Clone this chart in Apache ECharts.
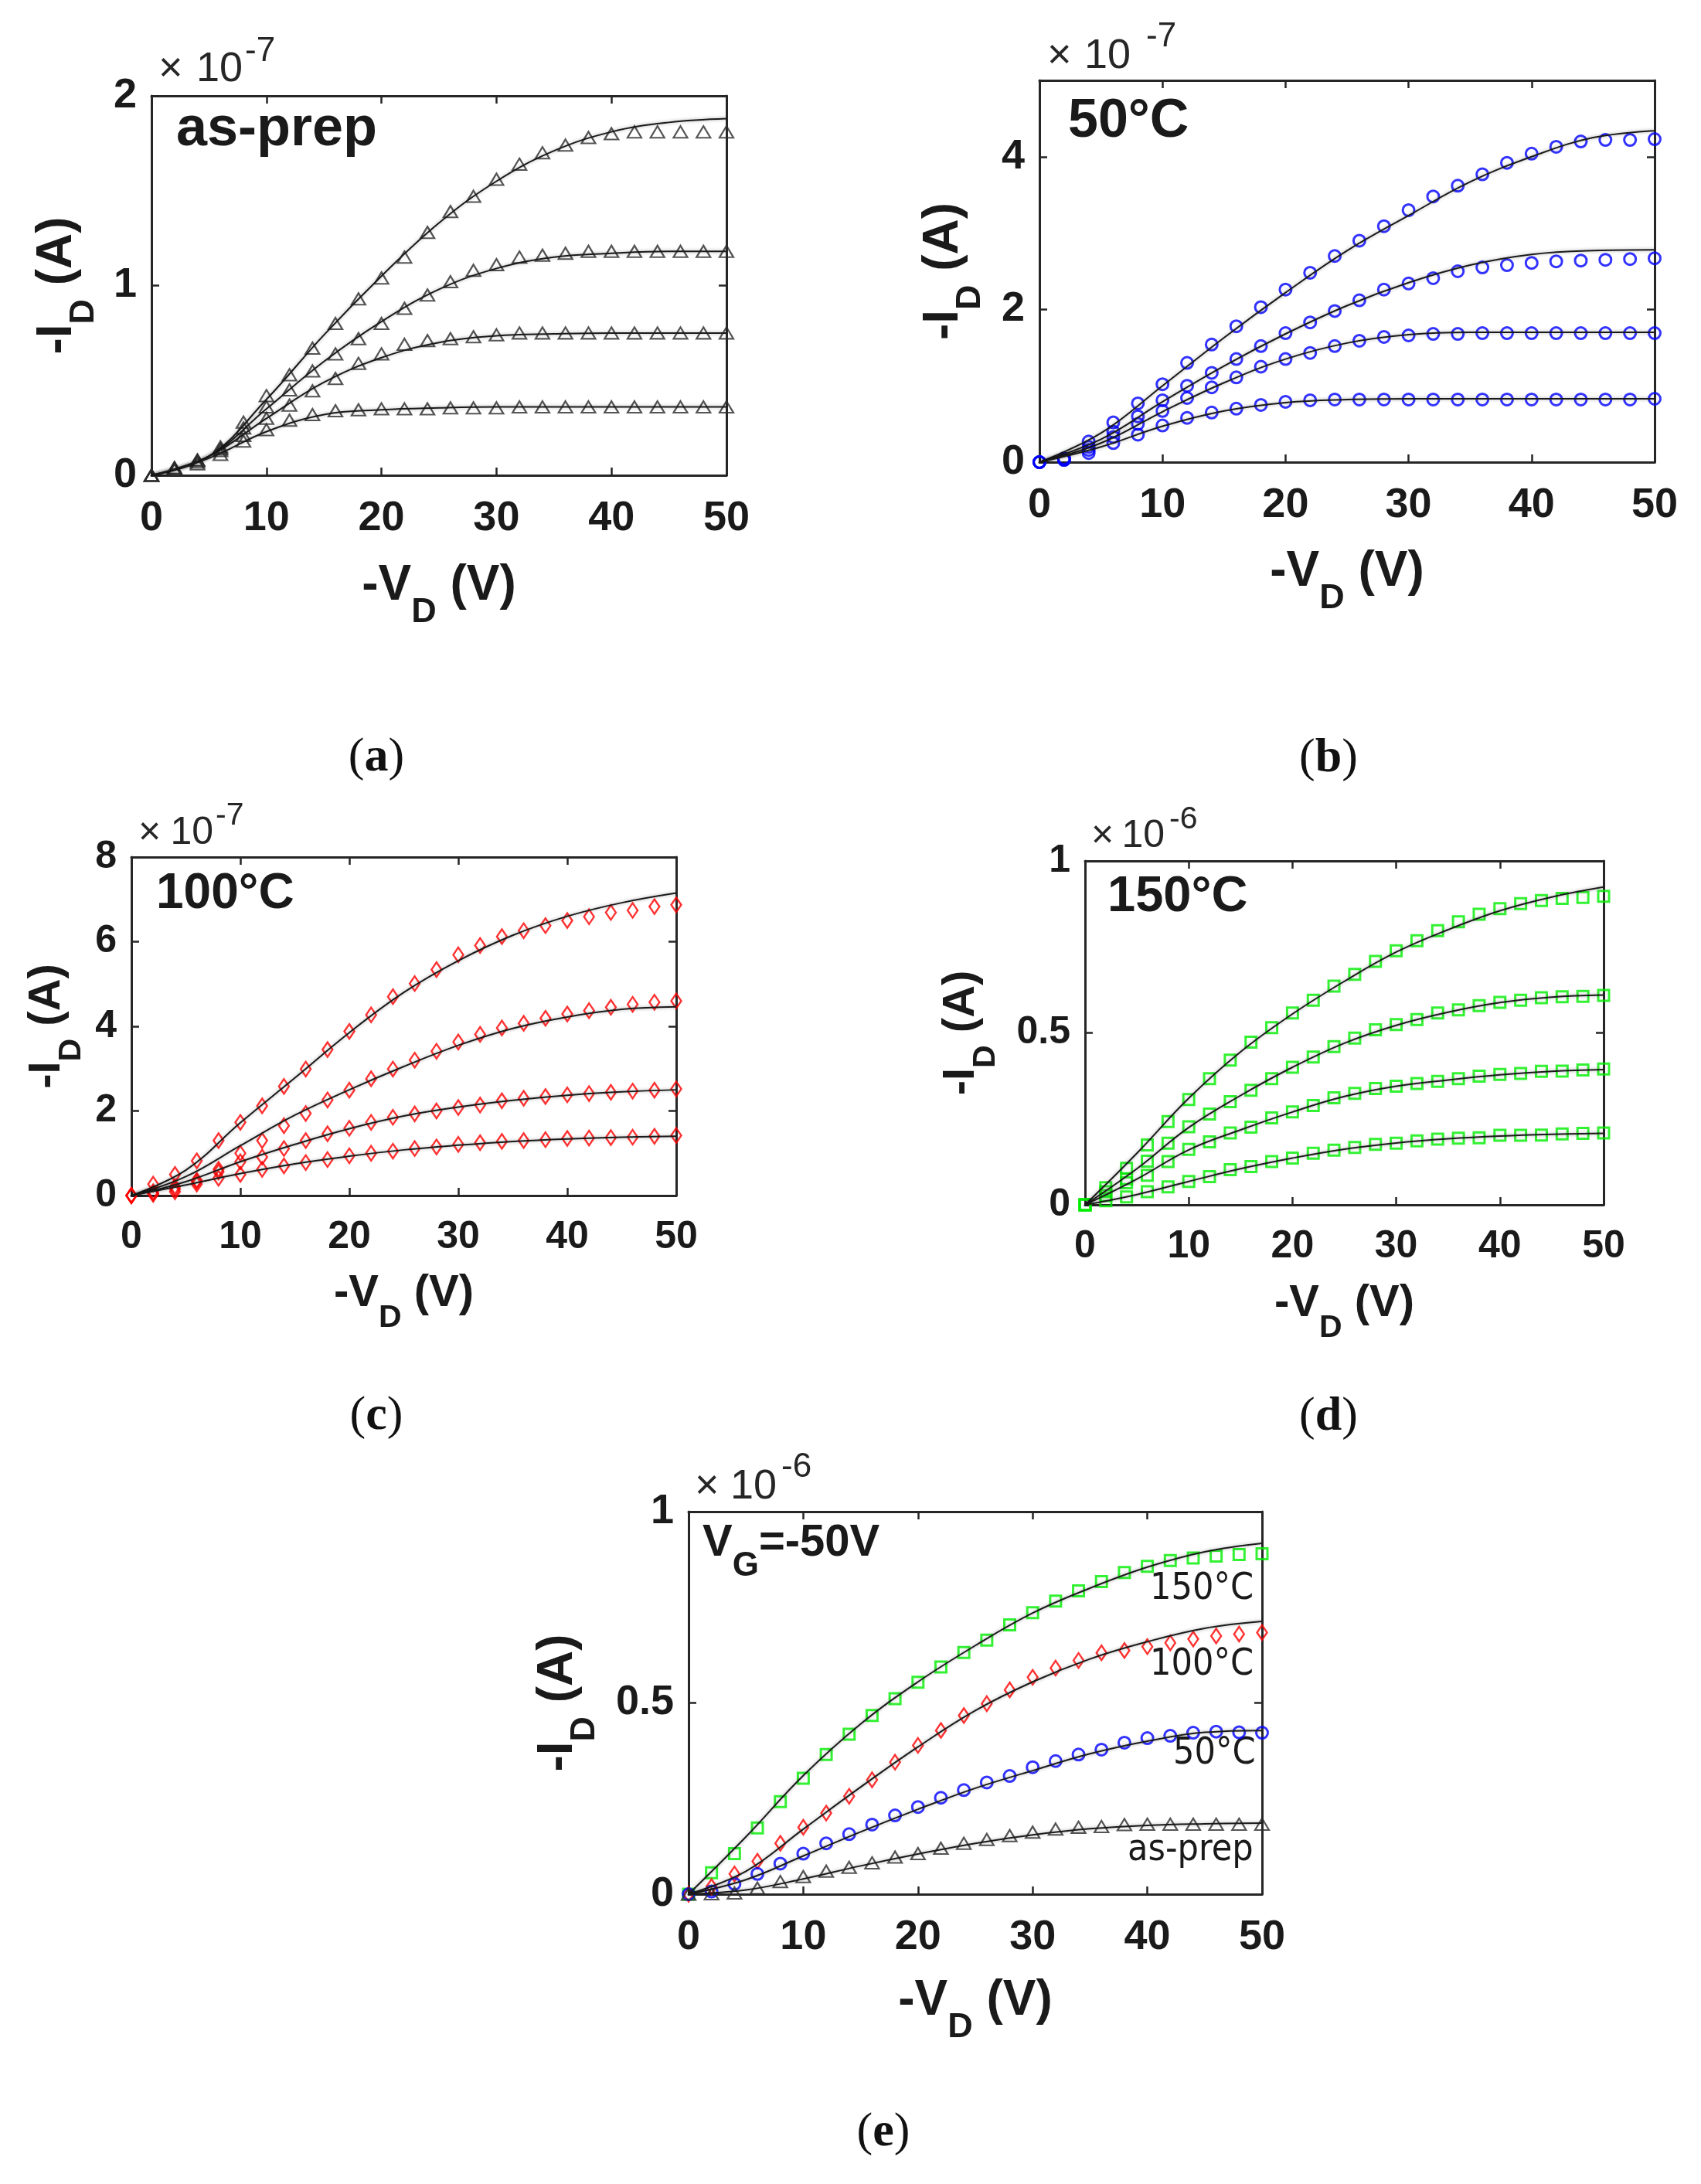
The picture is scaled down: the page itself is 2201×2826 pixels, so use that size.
<!DOCTYPE html>
<html>
<head>
<meta charset="utf-8">
<script src="https://cdn.jsdelivr.net/npm/echarts@6/dist/echarts.min.js"></script>
<style>
  html, body { margin: 0; padding: 0; background: #fff; }
  #chart { width: 2201px; height: 2826px; }
</style>
</head>
<body>
<div id="chart"></div>
<script>
// -VD sampling of the measured points and of the fitted curves
const vdPts = [0, 2, 4, 6, 8, 10, 12, 14, 16, 18, 20, 22, 24, 26, 28, 30, 32, 34, 36, 38, 40, 42, 44, 46, 48, 50];
const vdFit = [0, 5, 10, 15, 20, 25, 30, 35, 40, 45, 50];

// (a) as-prep, x1e-7 A
const aMeas = [
  [0, 0.04, 0.08, 0.15, 0.28, 0.42, 0.53, 0.67, 0.80, 0.93, 1.04, 1.15, 1.28, 1.39, 1.47, 1.56, 1.64, 1.70, 1.74, 1.78, 1.80, 1.81, 1.81, 1.81, 1.81, 1.81],
  [0, 0.04, 0.08, 0.14, 0.25, 0.36, 0.45, 0.55, 0.64, 0.72, 0.80, 0.88, 0.95, 1.02, 1.08, 1.11, 1.15, 1.16, 1.17, 1.18, 1.18, 1.18, 1.18, 1.18, 1.18, 1.18],
  [0, 0.03, 0.07, 0.13, 0.21, 0.30, 0.37, 0.445, 0.51, 0.59, 0.64, 0.69, 0.71, 0.72, 0.73, 0.74, 0.75, 0.75, 0.75, 0.75, 0.75, 0.75, 0.75, 0.75, 0.75, 0.75],
  [0, 0.03, 0.06, 0.11, 0.18, 0.24, 0.29, 0.32, 0.34, 0.345, 0.35, 0.35, 0.35, 0.355, 0.355, 0.355, 0.36, 0.36, 0.36, 0.36, 0.36, 0.36, 0.36, 0.36, 0.36, 0.36]
];
const aFit = [
  [0, 0.10, 0.40, 0.74, 1.05, 1.33, 1.55, 1.71, 1.81, 1.86, 1.88],
  [0, 0.10, 0.35, 0.60, 0.81, 0.98, 1.09, 1.15, 1.17, 1.18, 1.18],
  [0, 0.10, 0.30, 0.49, 0.62, 0.70, 0.735, 0.745, 0.75, 0.75, 0.75],
  [0, 0.09, 0.23, 0.32, 0.345, 0.355, 0.36, 0.36, 0.36, 0.36, 0.36]
];

// (b) 50 C, x1e-7 A
const bMeas = [
  [0, 0.05, 0.27, 0.52, 0.77, 1.02, 1.30, 1.54, 1.78, 2.03, 2.26, 2.48, 2.70, 2.90, 3.09, 3.30, 3.48, 3.62, 3.77, 3.92, 4.04, 4.13, 4.20, 4.22, 4.22, 4.23],
  [0, 0.04, 0.20, 0.40, 0.60, 0.81, 1.00, 1.17, 1.35, 1.52, 1.69, 1.83, 1.98, 2.12, 2.26, 2.34, 2.41, 2.50, 2.55, 2.58, 2.61, 2.63, 2.64, 2.65, 2.66, 2.67],
  [0, 0.03, 0.16, 0.33, 0.50, 0.67, 0.84, 0.98, 1.11, 1.25, 1.35, 1.43, 1.52, 1.59, 1.64, 1.66, 1.68, 1.68, 1.69, 1.69, 1.69, 1.69, 1.69, 1.69, 1.69, 1.69],
  [0, 0.03, 0.12, 0.25, 0.36, 0.48, 0.58, 0.65, 0.70, 0.75, 0.79, 0.81, 0.82, 0.82, 0.82, 0.82, 0.82, 0.82, 0.82, 0.82, 0.82, 0.82, 0.82, 0.82, 0.82, 0.83]
];
const bFit = [
  [0, 0.38, 1.00, 1.63, 2.22, 2.77, 3.23, 3.67, 4.00, 4.25, 4.34],
  [0, 0.30, 0.79, 1.26, 1.68, 2.05, 2.35, 2.58, 2.72, 2.77, 2.78],
  [0, 0.25, 0.66, 1.04, 1.35, 1.56, 1.67, 1.70, 1.70, 1.70, 1.70],
  [0, 0.20, 0.47, 0.67, 0.78, 0.82, 0.83, 0.83, 0.83, 0.83, 0.83]
];

// (c) 100 C, x1e-7 A
const cMeas = [
  [0, 0.27, 0.50, 0.82, 1.30, 1.73, 2.12, 2.58, 2.99, 3.45, 3.88, 4.27, 4.70, 5.01, 5.34, 5.69, 5.91, 6.12, 6.26, 6.38, 6.50, 6.59, 6.69, 6.74, 6.83, 6.87],
  [0, 0.09, 0.21, 0.36, 0.62, 1.00, 1.30, 1.65, 1.94, 2.26, 2.49, 2.76, 2.99, 3.20, 3.41, 3.63, 3.81, 3.96, 4.07, 4.19, 4.29, 4.37, 4.45, 4.52, 4.57, 4.60],
  [0, 0.05, 0.15, 0.33, 0.56, 0.80, 0.91, 1.11, 1.30, 1.46, 1.59, 1.73, 1.85, 1.93, 2.00, 2.08, 2.14, 2.24, 2.30, 2.34, 2.38, 2.41, 2.44, 2.47, 2.49, 2.52],
  [0, 0.03, 0.09, 0.27, 0.41, 0.50, 0.62, 0.70, 0.78, 0.85, 0.94, 1.00, 1.05, 1.11, 1.15, 1.21, 1.25, 1.28, 1.30, 1.32, 1.35, 1.36, 1.37, 1.38, 1.40, 1.42]
];
const cFit = [
  [0, 0.60, 1.72, 2.78, 3.85, 4.80, 5.55, 6.15, 6.60, 6.92, 7.15],
  [0, 0.45, 1.18, 1.90, 2.50, 3.05, 3.55, 3.95, 4.22, 4.40, 4.46],
  [0, 0.33, 0.80, 1.21, 1.58, 1.88, 2.09, 2.25, 2.37, 2.45, 2.50],
  [0, 0.25, 0.52, 0.75, 0.93, 1.08, 1.19, 1.28, 1.34, 1.38, 1.40]
];

// (d) 150 C, x1e-6 A
const dMeas = [
  [0, 0.050, 0.106, 0.174, 0.242, 0.306, 0.367, 0.421, 0.473, 0.515, 0.558, 0.595, 0.636, 0.670, 0.708, 0.739, 0.768, 0.797, 0.823, 0.845, 0.861, 0.876, 0.885, 0.891, 0.894, 0.897],
  [0, 0.038, 0.076, 0.127, 0.179, 0.227, 0.264, 0.300, 0.333, 0.367, 0.400, 0.430, 0.460, 0.485, 0.509, 0.524, 0.539, 0.558, 0.567, 0.579, 0.589, 0.595, 0.602, 0.605, 0.606, 0.609],
  [0, 0.027, 0.064, 0.086, 0.126, 0.161, 0.183, 0.209, 0.226, 0.253, 0.270, 0.289, 0.311, 0.324, 0.338, 0.345, 0.353, 0.359, 0.367, 0.374, 0.379, 0.382, 0.388, 0.389, 0.392, 0.395],
  [0, 0.012, 0.023, 0.038, 0.052, 0.068, 0.082, 0.102, 0.111, 0.126, 0.136, 0.150, 0.159, 0.167, 0.176, 0.179, 0.186, 0.191, 0.194, 0.195, 0.202, 0.202, 0.203, 0.206, 0.208, 0.209]
];
const dFit = [
  [0, 0.150, 0.310, 0.445, 0.555, 0.650, 0.735, 0.800, 0.855, 0.895, 0.924],
  [0, 0.105, 0.225, 0.318, 0.400, 0.470, 0.522, 0.560, 0.588, 0.604, 0.610],
  [0, 0.075, 0.160, 0.218, 0.270, 0.315, 0.345, 0.363, 0.378, 0.388, 0.393],
  [0, 0.030, 0.068, 0.105, 0.136, 0.162, 0.180, 0.192, 0.200, 0.205, 0.208]
];

// (e) VG = -50 V, x1e-6 A : 150 C, 100 C, 50 C, as-prep
const eMeas = [
  [0, 0.056, 0.106, 0.173, 0.242, 0.303, 0.365, 0.418, 0.467, 0.511, 0.554, 0.594, 0.632, 0.664, 0.704, 0.736, 0.766, 0.793, 0.817, 0.841, 0.857, 0.872, 0.879, 0.884, 0.888, 0.890],
  [0, 0.020, 0.053, 0.086, 0.133, 0.175, 0.212, 0.256, 0.299, 0.345, 0.389, 0.428, 0.467, 0.498, 0.534, 0.567, 0.591, 0.611, 0.631, 0.637, 0.647, 0.657, 0.667, 0.675, 0.680, 0.684],
  [0, 0.007, 0.027, 0.053, 0.080, 0.106, 0.133, 0.157, 0.182, 0.206, 0.228, 0.252, 0.272, 0.292, 0.309, 0.332, 0.348, 0.365, 0.378, 0.396, 0.408, 0.414, 0.422, 0.425, 0.423, 0.422],
  [0, 0.001, 0.003, 0.016, 0.033, 0.046, 0.060, 0.070, 0.082, 0.097, 0.106, 0.120, 0.133, 0.143, 0.153, 0.162, 0.170, 0.175, 0.177, 0.182, 0.183, 0.183, 0.183, 0.183, 0.183, 0.183]
];
const eFit = [
  [0, 0.150, 0.310, 0.445, 0.555, 0.650, 0.735, 0.800, 0.855, 0.895, 0.917],
  [0, 0.060, 0.170, 0.280, 0.385, 0.480, 0.555, 0.615, 0.660, 0.695, 0.713],
  [0, 0.038, 0.100, 0.163, 0.222, 0.277, 0.323, 0.367, 0.400, 0.423, 0.428],
  [0, 0.011, 0.040, 0.074, 0.105, 0.133, 0.155, 0.171, 0.180, 0.184, 0.186]
];

const FONT = "'Liberation Sans', Arial, Helvetica, sans-serif";
const NARROW = "'Liberation Sans Narrow', 'DejaVu Sans Condensed', 'Liberation Sans', sans-serif";
const SERIF = "'Liberation Serif', 'Times New Roman', serif";
const INK = '#1a1a1a';

const tri = { symbol: 'triangle', size: [18, 15], color: '#2b2b2b', bw: 2.2 };
const circ = { symbol: 'circle', size: 15, color: '#0000ff', bw: 3 };
const dia = { symbol: 'diamond', size: [13, 19], color: '#ff0000', bw: 2.5 };
const sq = { symbol: 'rect', size: 14, color: '#00ee00', bw: 3 };

const panels = [
  { grid: { left: 196, top: 124, width: 744, height: 491 }, ymax: 2, yint: 1, showMax: true,
    meas: aMeas, fit: aFit, styles: [tri, tri, tri, tri], tick: 54, nameSize: 64, xGap: 83, yGap: 62 },
  { grid: { left: 1345, top: 104, width: 796, height: 494 }, ymax: 5, yint: 2, showMax: false,
    meas: bMeas, fit: bFit, styles: [circ, circ, circ, circ], tick: 54, nameSize: 64, xGap: 82, yGap: 64 },
  { grid: { left: 170, top: 1109, width: 705, height: 438 }, ymax: 8, yint: 2, showMax: true,
    meas: cMeas, fit: cFit, styles: [dia, dia, dia, dia], tick: 50, nameSize: 58, xGap: 72, yGap: 55 },
  { grid: { left: 1404, top: 1114, width: 671, height: 445 }, ymax: 1, yint: 0.5, showMax: true,
    meas: dMeas, fit: dFit, styles: [sq, sq, sq, sq], tick: 50, nameSize: 58, xGap: 73, yGap: 106 },
  { grid: { left: 891, top: 1956, width: 742, height: 495 }, ymax: 1, yint: 0.5, showMax: true,
    meas: eMeas, fit: eFit, styles: [sq, dia, circ, tri], tick: 54, nameSize: 64, xGap: 78, yGap: 109 }
];

// subscript rich styles for axis titles
function nameRich(size) {
  return {
    m: { fontSize: size, fontWeight: 'bold', fontFamily: FONT, color: INK, lineHeight: Math.round(size * 1.88) },
    s: { fontSize: Math.round(size * 0.7), fontWeight: 'bold', fontFamily: FONT, color: INK,
         lineHeight: Math.round(size * 0.78), padding: [Math.round(size * 1.1), 0, 0, 0] }
  };
}

const frame = { show: true, onZero: false, lineStyle: { color: '#262626', width: 3 } };
const ticks = { show: true, inside: true, length: 10, lineStyle: { color: '#262626', width: 2.5 } };

const grids = [], xAxes = [], yAxes = [], series = [];

panels.forEach((p, i) => {
  grids.push(Object.assign({ outerBoundsMode: 'none', containLabel: false }, p.grid));
  xAxes.push({
    gridIndex: i, type: 'value', min: 0, max: 50, interval: 10, position: 'bottom',
    axisLine: frame, axisTick: ticks, splitLine: { show: false },
    axisLabel: { margin: 29, fontSize: p.tick, fontWeight: 'bold', fontFamily: FONT, color: INK },
    name: '{m|-V}{s|D}{m| (V)}', nameLocation: 'middle', nameGap: p.xGap, nameMoveOverlap: false,
    nameTextStyle: { rich: nameRich(p.nameSize) }
  });
  xAxes.push({
    gridIndex: i, type: 'value', min: 0, max: 50, interval: 10, position: 'top',
    axisLine: frame, axisTick: ticks, axisLabel: { show: false }, splitLine: { show: false }
  });
  yAxes.push({
    gridIndex: i, type: 'value', min: 0, max: p.ymax, interval: p.yint, position: 'left',
    axisLine: frame, axisTick: ticks, splitLine: { show: false },
    axisLabel: { margin: 19, fontSize: p.tick, fontWeight: 'bold', fontFamily: FONT, color: INK, showMaxLabel: p.showMax },
    name: '{m|-I}{s|D}{m| (A)}', nameLocation: 'middle', nameGap: p.yGap, nameMoveOverlap: false,
    nameTextStyle: { rich: nameRich(p.nameSize) }
  });
  yAxes.push({
    gridIndex: i, type: 'value', min: 0, max: p.ymax, interval: p.yint, position: 'right',
    axisLine: frame, axisTick: ticks, axisLabel: { show: false }, splitLine: { show: false }
  });

  p.meas.forEach((m, j) => {
    const st = p.styles[j];
    series.push({
      type: 'scatter', xAxisIndex: 2 * i, yAxisIndex: 2 * i, silent: true, z: 2,
      symbol: st.symbol, symbolSize: st.size,
      itemStyle: { color: 'rgba(255,255,255,0)', borderColor: st.color, borderWidth: st.bw },
      data: vdPts.map((v, k) => [v, m[k]])
    });
  });
  p.fit.forEach(f => {
    series.push({
      type: 'line', xAxisIndex: 2 * i, yAxisIndex: 2 * i, silent: true, z: 3,
      showSymbol: false, smooth: 0.4,
      lineStyle: { color: INK, width: 2, shadowColor: 'rgba(0,0,0,0.35)', shadowBlur: 4 },
      data: vdFit.map((v, k) => [v, f[k]])
    });
  });
});

function txt(x, y, text, style) {
  return { type: 'text', x: x, y: y, silent: true,
           style: Object.assign({ text: text, align: 'left', verticalAlign: 'middle', fill: INK }, style) };
}
// "x10^n" scale label: cross, mantissa (right edge given), exponent
function expLabel(xCross, xTenRight, yTen, xExp, yExp, e, size) {
  const f = size + 'px ' + FONT;
  const fe = Math.round(size * 0.82) + 'px ' + FONT;
  return [
    txt(xCross, yTen, '\u00d7', { font: f, fill: '#262626' }),
    txt(xTenRight, yTen, '10', { font: f, fill: '#262626', align: 'right' }),
    txt(xExp, yExp, e, { font: fe, fill: '#262626' })
  ];
}
function figLabel(x, y, letter) {
  return txt(x, y, '{p|(}{b|' + letter + '}{p|)}', {
    align: 'center',
    rich: {
      p: { fontSize: 62, fontFamily: SERIF, fill: '#111' },
      b: { fontSize: 62, fontFamily: SERIF, fontWeight: 'bold', fill: '#111' }
    }
  });
}
const bold = (size) => ({ font: 'bold ' + size + 'px ' + FONT });
const narrow = { font: '48px ' + NARROW };

const graphics = [].concat(
  expLabel(205, 314, 90, 317, 67, '-7', 54),
  expLabel(1355, 1463, 73, 1483, 48, '-7', 54),
  expLabel(179, 276, 1078, 279, 1056, '-7', 50),
  expLabel(1412, 1507, 1082, 1513, 1061, '-6', 50),
  expLabel(899, 1005, 1924, 1011, 1899, '-6', 54),
  [
    txt(228, 168, 'as-prep', bold(72)),
    txt(1382, 158, '50\u00b0C', bold(70)),
    txt(202, 1157, '100\u00b0C', bold(64)),
    txt(1433, 1161, '150\u00b0C', bold(65)),
    txt(909, 1997, '{m|V}{s|G}{m|=-50V}', {
      rich: {
        m: { fontSize: 58, fontWeight: 'bold', fontFamily: FONT, fill: INK, lineHeight: 106 },
        s: { fontSize: 44, fontWeight: 'bold', fontFamily: FONT, fill: INK, lineHeight: 46, padding: [60, 0, 0, 0] }
      }
    }),
    txt(1488, 2057, '150\u00b0C', narrow),
    txt(1488, 2155, '100\u00b0C', narrow),
    txt(1518, 2270, '50\u00b0C', narrow),
    txt(1459, 2395, 'as-prep', narrow),
    figLabel(487, 981, 'a'),
    figLabel(1719, 982, 'b'),
    figLabel(487, 1833, 'c'),
    figLabel(1719, 1834, 'd'),
    figLabel(1143, 2760, 'e')
  ]
);

const chart = echarts.init(document.getElementById('chart'), null, { renderer: 'canvas' });
chart.setOption({
  backgroundColor: '#ffffff',
  animation: false,
  grid: grids,
  xAxis: xAxes,
  yAxis: yAxes,
  series: series,
  graphic: graphics
});
</script>
</body>
</html>
